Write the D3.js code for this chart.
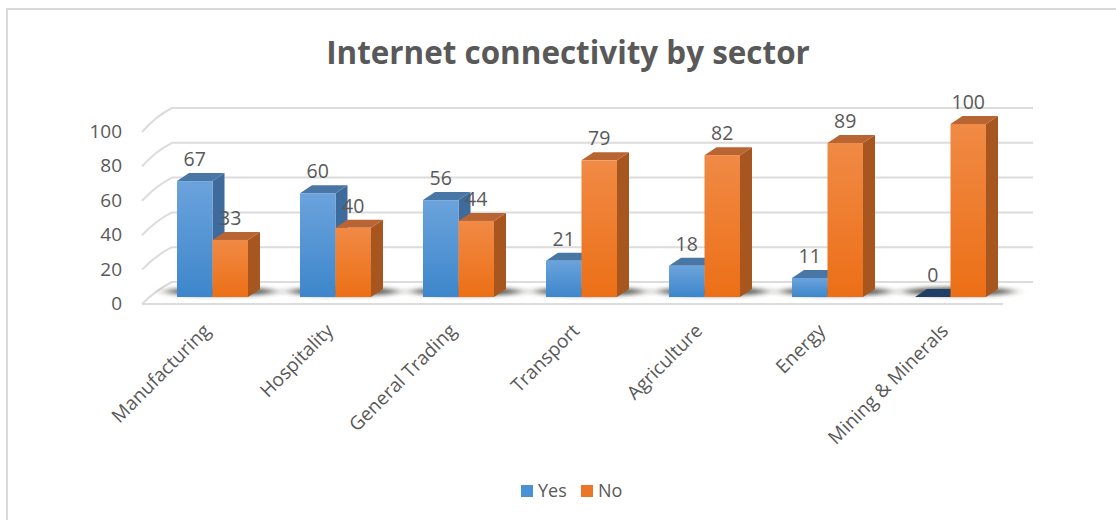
<!DOCTYPE html>
<html><head><meta charset="utf-8">
<script src="https://cdn.jsdelivr.net/npm/d3@7"></script>
<style>html,body{margin:0;background:#fff}svg{display:block}text{font-family:"Open Sans",Lato,sans-serif}</style>
</head><body><svg id="chart" width="1116" height="520"></svg>
<script>
// Connectivity survey results, share of firms per sector (%)
const sectors = ["Manufacturing","Hospitality","General Trading","Transport","Agriculture","Energy","Mining & Minerals"];
const yesValues = [67,60,56,21,18,11,0];
const noValues = [33,40,44,79,82,89,100];
const seriesNames = ["Yes","No"];
const yTicks = [0,20,40,60,80,100];

const svg = d3.select("#chart");
const textColor = "#595959", gridColor = "#dcdcdc";

const palette = {
  Yes:{top:"#6ba3dc",bottom:"#3d86cb",side:"#3f6a9c",cap:"#4877a6",zero:"#1f3f66",key:"#4a90d4"},
  No:{top:"#f08a45",bottom:"#ec6f16",side:"#a8561f",cap:"#b86433",zero:"#a9541c",key:"#ed7528"}
};

// Vertical gradients for the front faces, blur for floor shadows
const defs = svg.append("defs");
seriesNames.forEach(n=>{
  const g = defs.append("linearGradient").attr("id","face"+n).attr("x1",0).attr("y1",0).attr("x2",0).attr("y2",1);
  g.append("stop").attr("offset",0).attr("stop-color",palette[n].top);
  g.append("stop").attr("offset",1).attr("stop-color",palette[n].bottom);
});
defs.append("filter").attr("id","soft").attr("x","-30%").attr("y","-300%").attr("width","160%").attr("height","700%")
  .append("feGaussianBlur").attr("stdDeviation","7 1.9");

// Chart frame
svg.append("path").attr("d","M7 520V9H1116").attr("fill","none").attr("stroke","#d9d9d9").attr("stroke-width",2);

// Title
svg.append("text").attr("x",568).attr("y",64).attr("text-anchor","middle")
  .attr("font-size",31.4).attr("font-weight",700).attr("fill",textColor).text("Internet connectivity by sector");

// Scales: front plane of the bars, and the depth offset of the back wall
const yFront = d3.scaleLinear().domain([0,100]).range([297,124]);
const yBack = d3.scaleLinear().domain([0,100]).range([282,108]);
const yWallFront = d3.scaleLinear().domain([0,100]).range([304,132]);
const xGroup = d3.scaleBand().domain(sectors).range([154,1015]).paddingInner(0).paddingOuter(0);
const xSeries = d3.scaleBand().domain(seriesNames).range([23,94]);
const wallLeft = 172, wallRight = 1033, floorLeft = 142, floorRight = 1003;
const depthX = 12, depthY = 8;

// Gridlines on the back wall and side wall
const grid = svg.append("g").attr("fill","none").attr("stroke",gridColor).attr("stroke-width",2);
yTicks.forEach(t=>{
  grid.append("path").attr("d",`M${floorLeft} ${yWallFront(t)}Q${wallLeft-16} ${yBack(t)+8} ${wallLeft} ${yBack(t)}H${wallRight}`);
});
grid.append("path").attr("d",`M${floorLeft} ${yWallFront(0)}H${floorRight}`);

// Value axis labels
svg.append("g").selectAll("text").data(yTicks).join("text")
  .attr("x",122).attr("y",d=>yWallFront(d)+6).attr("text-anchor","end")
  .attr("font-size",19).attr("fill",textColor).text(d=>d);

// Floor shadows under each cluster
svg.append("g").selectAll("ellipse").data(sectors).join("ellipse")
  .attr("cx",s=>xGroup(s)+xSeries("Yes")+xSeries.bandwidth()+8)
  .attr("cy",291.5).attr("rx",xSeries.bandwidth()+20).attr("ry",4.2)
  .attr("fill","#33302c").attr("opacity",.8).attr("filter","url(#soft)");

// 3D bars: side, cap, then front face
const bars = sectors.flatMap((s,i)=>[
  {sector:s,series:"Yes",value:yesValues[i]},
  {sector:s,series:"No",value:noValues[i]}
]);
const w = xSeries.bandwidth();
const bar = svg.append("g").selectAll("g").data(bars).join("g")
  .attr("transform",d=>`translate(${xGroup(d.sector)+xSeries(d.series)},0)`);
bar.append("path").attr("fill",d=>palette[d.series].side)
  .attr("d",d=>`M${w} ${yFront(d.value)}l${depthX} ${-depthY}V${yFront(0)-depthY}L${w} ${yFront(0)}Z`);
bar.append("path").attr("fill",d=>d.value===0?palette[d.series].zero:palette[d.series].cap)
  .attr("d",d=>`M0 ${yFront(d.value)}l${depthX} ${-depthY}h${w}l${-depthX} ${depthY}Z`);
bar.append("rect").attr("width",w).attr("y",d=>yFront(d.value))
  .attr("height",d=>yFront(0)-yFront(d.value)).attr("fill",d=>`url(#face${d.series})`);

// Value labels
bar.append("text").attr("x",w/2).attr("y",d=>yFront(d.value)-15)
  .attr("text-anchor","middle").attr("font-size",19.5).attr("fill",textColor).text(d=>d.value);

// Category labels, slanted
svg.append("g").selectAll("text").data(sectors).join("text")
  .attr("transform",s=>`translate(${xGroup(s)+xSeries("Yes")+w-1},${332}) rotate(-45)`)
  .attr("text-anchor","end").attr("font-size",19).attr("fill",textColor).text(s=>s);

// Legend
const legend = svg.append("g");
const legendX = {Yes:521,No:581};
seriesNames.forEach(n=>{
  legend.append("rect").attr("x",legendX[n]).attr("y",485).attr("width",12).attr("height",12).attr("fill",palette[n].key);
  legend.append("text").attr("x",legendX[n]+17).attr("y",497).attr("font-size",18).attr("fill",textColor).text(n);
});
</script></body></html>
